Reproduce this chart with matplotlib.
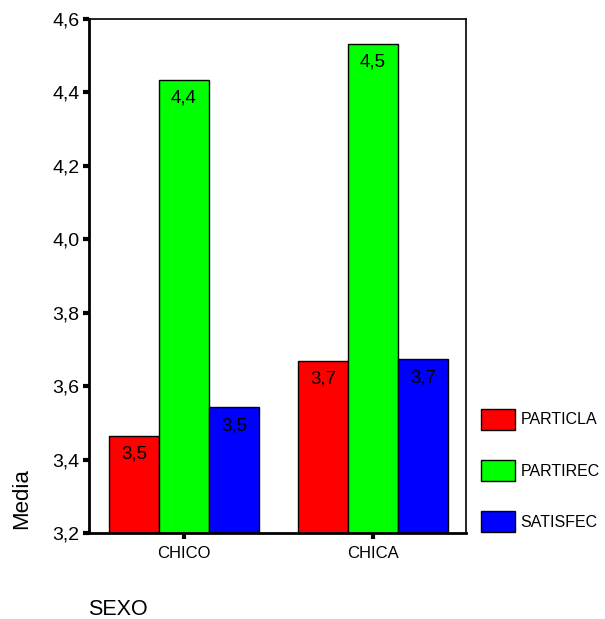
import matplotlib
matplotlib.use("Agg")
import matplotlib.pyplot as plt
from matplotlib.patches import Patch
import numpy as np

plt.rcParams['font.family'] = ['Liberation Sans', 'DejaVu Sans']

categories = ["CHICO", "CHICA"]
series_names = ["PARTICLA", "PARTIREC", "SATISFEC"]
particla = [3.464, 3.668]
partirec = [4.434, 4.532]
satisfec = [3.542, 3.673]
series_values = [particla, partirec, satisfec]
colors = ["#ff0000", "#00ff00", "#0000ff"]
y_ticks = [3.2, 3.4, 3.6, 3.8, 4.0, 4.2, 4.4, 4.6]

fig = plt.figure(figsize=(6.05, 6.19), dpi=100)
ax = fig.add_axes([89 / 605, 1 - 533 / 619, (466 - 89) / 605, (533 - 19) / 619])

x = np.arange(len(categories))
width = 0.265
for i, (vals, col) in enumerate(zip(series_values, colors)):
    pos = x + (i - 1) * width
    ax.bar(pos, [v - 3.2 for v in vals], width, bottom=3.2, color=col,
           edgecolor="black", linewidth=1.0)
    for xp, v in zip(pos, vals):
        ax.annotate(f"{v:.1f}".replace(".", ","), (xp, v), xytext=(0, -7),
                    textcoords="offset points", ha="center", va="top",
                    fontsize=13.5, color="black")

ax.set_xlim(-0.503, 1.492)
ax.set_ylim(3.2, 4.6)
ax.set_yticks(y_ticks)
ax.set_yticklabels([f"{t:.1f}".replace(".", ",") for t in y_ticks], fontsize=14)
ax.set_xticks(x)
ax.set_xticklabels(categories, fontsize=12)
ax.tick_params(axis="both", direction="out", length=4, width=3, color="black")
ax.tick_params(axis="x", pad=5)
ax.tick_params(axis="y", pad=3)

for side in ["left", "bottom"]:
    ax.spines[side].set_linewidth(2)
for side in ["top", "right"]:
    ax.spines[side].set_linewidth(1.2)

fig.text(22 / 605, 1 - 499 / 619, "Media", rotation=90, ha="center", va="center", fontsize=16)
fig.text(88 / 605, 1 - 615 / 619, "SEXO", ha="left", va="baseline", fontsize=15.5)

handles = [Patch(facecolor=c, edgecolor="black", linewidth=1.0) for c in colors]
fig.legend(handles, series_names, loc="upper left", bbox_to_anchor=(481 / 605, 1 - 409 / 619),
           frameon=False, fontsize=11.5, handlelength=2.1, handleheight=1.6,
           handletextpad=0.36, labelspacing=1.92, borderpad=0, borderaxespad=0)

fig.savefig("out.png", dpi=100)
